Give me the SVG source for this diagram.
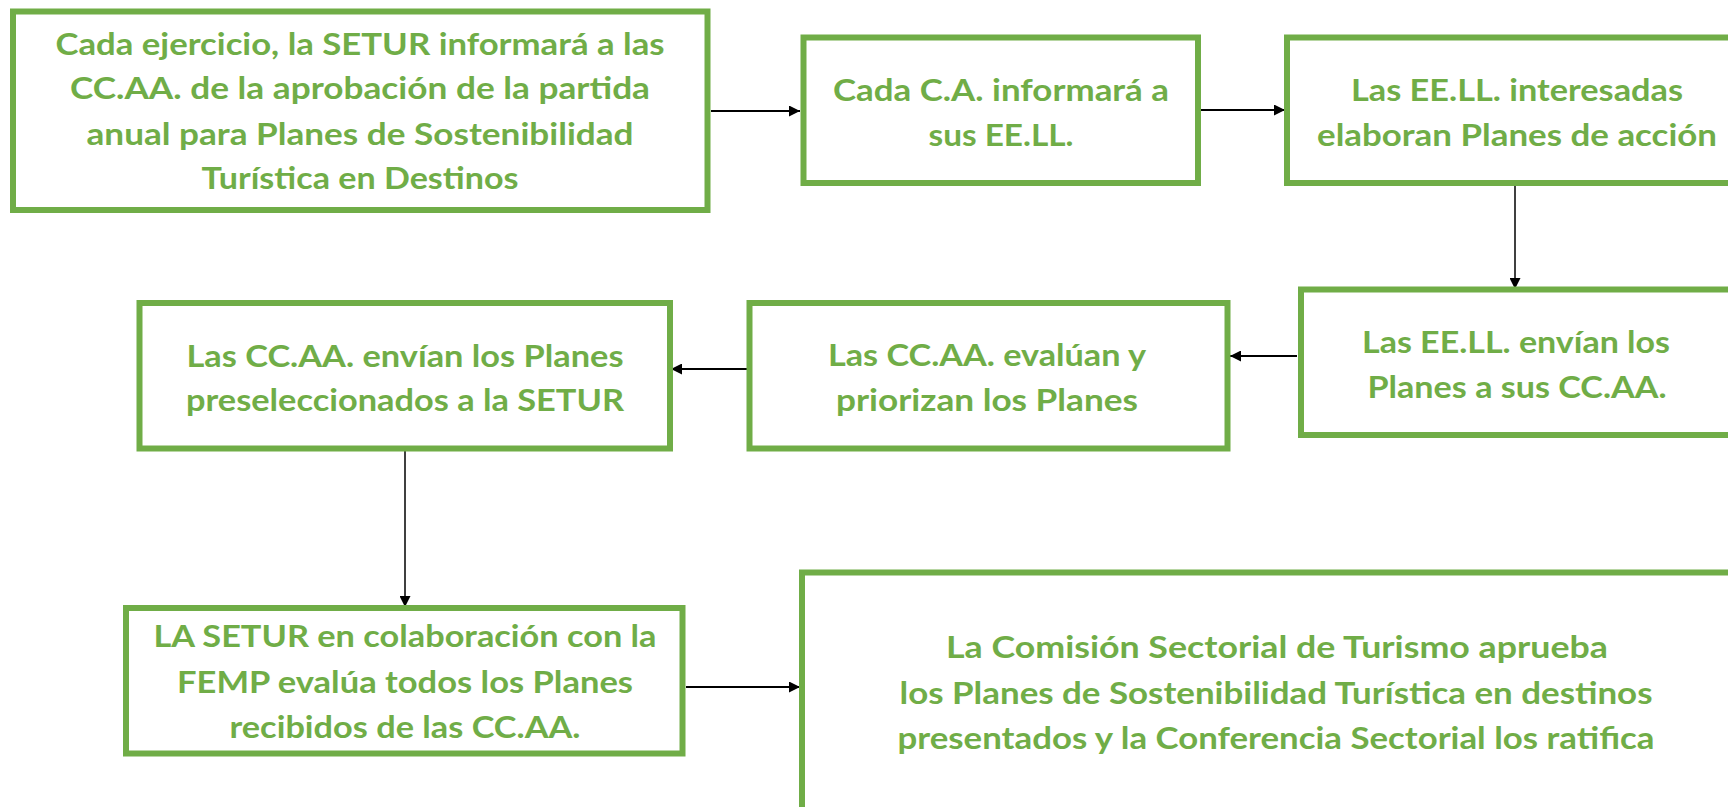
<svg xmlns="http://www.w3.org/2000/svg" width="1728" height="807" viewBox="0 0 1728 807">
<style>
.box{fill:#fff;stroke:#70AD47;stroke-width:6}
.t{font-family:Lato,"Open Sans","Liberation Sans",sans-serif;font-weight:bold;font-size:31px;fill:#70AD47;text-anchor:middle}
.c{stroke:#000;stroke-width:2;fill:none;marker-end:url(#ah)}
.v{stroke-width:1.5}
</style>
<defs>
<marker id="ah" viewBox="0 0 10 10" refX="10" refY="5" markerWidth="11" markerHeight="11" markerUnits="userSpaceOnUse" orient="auto">
<path d="M0,0 L10,5 L0,10 z" fill="#000"/>
</marker>
</defs>
<rect width="1728" height="807" fill="#fff"/>
<g id="connectors">
<line class="c" x1="711" y1="111" x2="800" y2="111"/>
<line class="c" x1="1201" y1="110" x2="1285" y2="110"/>
<line class="c v" x1="1515" y1="185" x2="1515" y2="289"/>
<line class="c" x1="1297" y1="356" x2="1230" y2="356"/>
<line class="c" x1="747" y1="369" x2="671" y2="369"/>
<line class="c v" x1="405" y1="451" x2="405" y2="607"/>
<line class="c" x1="686" y1="687" x2="800" y2="687"/>
</g>
<g id="n1">
<rect class="box" x="13" y="11.5" width="694.5" height="198.5"/>
<text class="t" x="360" y="55" textLength="609" lengthAdjust="spacingAndGlyphs">Cada ejercicio, la SETUR informará a las</text>
<text class="t" x="360" y="99" textLength="580" lengthAdjust="spacingAndGlyphs">CC.AA. de la aprobación de la partida</text>
<text class="t" x="360" y="144.5" textLength="547" lengthAdjust="spacingAndGlyphs">anual para Planes de Sostenibilidad</text>
<text class="t" x="360" y="189" textLength="317" lengthAdjust="spacingAndGlyphs">Turística en Destinos</text>
</g>
<g id="n2">
<rect class="box" x="803.5" y="37.5" width="394.5" height="145.5"/>
<text class="t" x="1001" y="101" textLength="336" lengthAdjust="spacingAndGlyphs">Cada C.A. informará a</text>
<text class="t" x="1001" y="146" textLength="145" lengthAdjust="spacingAndGlyphs">sus EE.LL.</text>
</g>
<g id="n3">
<rect class="box" x="1287" y="37.5" width="480" height="145.5"/>
<text class="t" x="1517" y="101" textLength="332" lengthAdjust="spacingAndGlyphs">Las EE.LL. interesadas</text>
<text class="t" x="1517" y="146" textLength="400" lengthAdjust="spacingAndGlyphs">elaboran Planes de acción</text>
</g>
<g id="n4">
<rect class="box" x="1301" y="289.5" width="470" height="145.5"/>
<text class="t" x="1516" y="353" textLength="308" lengthAdjust="spacingAndGlyphs">Las EE.LL. envían los</text>
<text class="t" x="1517" y="398" textLength="299" lengthAdjust="spacingAndGlyphs">Planes a sus CC.AA.</text>
</g>
<g id="n5">
<rect class="box" x="749.5" y="303" width="478" height="145.5"/>
<text class="t" x="987" y="366" textLength="318" lengthAdjust="spacingAndGlyphs">Las CC.AA. evalúan y</text>
<text class="t" x="987" y="411" textLength="302" lengthAdjust="spacingAndGlyphs">priorizan los Planes</text>
</g>
<g id="n6">
<rect class="box" x="139.5" y="303" width="530.5" height="145.5"/>
<text class="t" x="405" y="366.5" textLength="437" lengthAdjust="spacingAndGlyphs">Las CC.AA. envían los Planes</text>
<text class="t" x="405" y="411" textLength="438" lengthAdjust="spacingAndGlyphs">preseleccionados a la SETUR</text>
</g>
<g id="n7">
<rect class="box" x="126" y="608" width="556.5" height="145.5"/>
<text class="t" x="405" y="647" textLength="503" lengthAdjust="spacingAndGlyphs">LA SETUR en colaboración con la</text>
<text class="t" x="405" y="693" textLength="456" lengthAdjust="spacingAndGlyphs">FEMP evalúa todos los Planes</text>
<text class="t" x="405" y="738" textLength="351" lengthAdjust="spacingAndGlyphs">recibidos de las CC.AA.</text>
</g>
<g id="n8">
<rect class="box" x="802" y="572.5" width="970" height="300"/>
<text class="t" x="1277" y="658" textLength="662" lengthAdjust="spacingAndGlyphs">La Comisión Sectorial de Turismo aprueba</text>
<text class="t" x="1276" y="704" textLength="753" lengthAdjust="spacingAndGlyphs">los Planes de Sostenibilidad Turística en destinos</text>
<text class="t" x="1276" y="749" textLength="757" lengthAdjust="spacingAndGlyphs">presentados y la Conferencia Sectorial los ratifica</text>
</g>
</svg>
